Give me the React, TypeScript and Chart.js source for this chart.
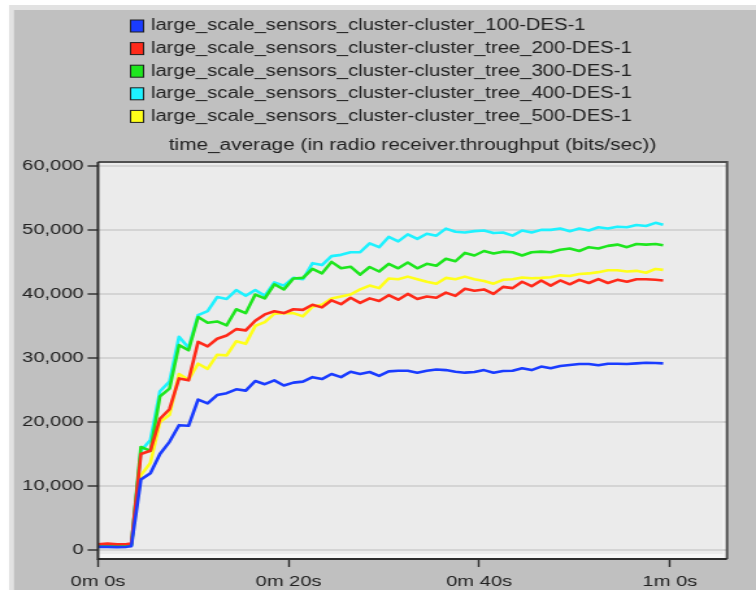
import React, { useEffect, useRef } from 'react';
import { Chart, registerables } from 'chart.js';

Chart.register(...registerables);

// Page size, and the canvas is rendered narrower then widened with CSS so
// that the typeface gets the same wide, flat look as the simulator export.
const WIDTH = 756;
const HEIGHT = 593;
const CANVAS_W = 582;
const SX = WIDTH / CANVAS_W;

const TITLE = 'time_average (in radio receiver.throughput (bits/sec))';

const SERIES_NAMES = [
  'large_scale_sensors_cluster-cluster_100-DES-1',
  'large_scale_sensors_cluster-cluster_tree_200-DES-1',
  'large_scale_sensors_cluster-cluster_tree_300-DES-1',
  'large_scale_sensors_cluster-cluster_tree_400-DES-1',
  'large_scale_sensors_cluster-cluster_tree_500-DES-1',
];
const SERIES_COLORS = ['#1a3cff', '#ff2a1a', '#1ee61e', '#1ef2ff', '#ffff1a'];

// Sample times in seconds
const TIMES = [
  0, 1, 2, 3, 3.5, 4.5, 5.5, 6.5, 7.5, 8.5, 9.5, 10.5, 11.5, 12.5, 13.5, 14.5,
  15.5, 16.5, 17.5, 18.5, 19.5, 20.5, 21.5, 22.5, 23.5, 24.5, 25.5, 26.5, 27.5,
  28.5, 29.5, 30.5, 31.5, 32.5, 33.5, 34.5, 35.5, 36.5, 37.5, 38.5, 39.5, 40.5,
  41.5, 42.5, 43.5, 44.5, 45.5, 46.5, 47.5, 48.5, 49.5, 50.5, 51.5, 52.5, 53.5,
  54.5, 55.5, 56.5, 57.5, 58.5, 59.3,
];

// Throughput (bits/sec) per sample time
const CLUSTER_100 = [
  500, 500, 450, 500, 600, 11000, 12000, 15000, 16900, 19500, 19400, 23500,
  22900, 24200, 24500, 25100, 24900, 26400, 25900, 26500, 25700, 26150, 26300,
  27000, 26700, 27500, 27000, 27850, 27500, 27800, 27200, 27900, 28000, 28000,
  27700, 28000, 28200, 28100, 27850, 27700, 27800, 28100, 27700, 27950, 28000,
  28400, 28100, 28650, 28400, 28750, 28900, 29060, 29050, 28850, 29100, 29100,
  29050, 29150, 29250, 29200, 29150,
];
const TREE_200 = [
  900, 1000, 900, 950, 1000, 15000, 15500, 20500, 22000, 26800, 26500, 32500,
  31800, 33000, 33500, 34500, 34300, 35800, 36800, 37300, 37000, 37600, 37500,
  38300, 37900, 39000, 38400, 39400, 38600, 39300, 38900, 39800, 39100, 40000,
  39200, 39600, 39400, 40200, 39700, 40800, 40500, 40700, 40000, 41100, 40900,
  41900, 41200, 42100, 41300, 42100, 41500, 42200, 41700, 42300, 41700, 42200,
  41900, 42300, 42300, 42200, 42100,
];
const TREE_300 = [
  700, 750, 700, 750, 800, 16100, 15500, 24000, 25200, 32000, 31200, 36400,
  35500, 35700, 35100, 37600, 37000, 39900, 39300, 41500, 40700, 42400, 42500,
  43900, 43200, 45000, 44000, 44250, 43000, 44200, 43500, 44700, 44000, 44900,
  44000, 44700, 44400, 45500, 45100, 46400, 46000, 46700, 46300, 46600, 46500,
  46000, 46500, 46600, 46500, 46900, 47100, 46700, 47300, 47100, 47500, 47700,
  47300, 47800, 47700, 47800, 47600,
];
const TREE_400 = [
  700, 700, 650, 700, 750, 15500, 17200, 24800, 26300, 33300, 31600, 36700,
  37300, 39500, 39200, 40600, 39700, 40600, 39700, 41800, 41300, 42500, 42300,
  44800, 44500, 45900, 46100, 46500, 46500, 47900, 47300, 48900, 48200, 49300,
  48600, 49400, 49100, 50200, 49700, 49600, 49800, 49900, 49500, 49600, 49100,
  49900, 49600, 50000, 50000, 50200, 49800, 50200, 49900, 50400, 50200, 50500,
  50400, 50750, 50600, 51100, 50800,
];
const TREE_500 = [
  700, 700, 650, 700, 800, 11700, 13600, 20000, 21100, 27500, 26600, 29100,
  28300, 30500, 30400, 32600, 32200, 35000, 35600, 36900, 37000, 37000, 36500,
  38000, 38300, 39300, 39600, 39900, 40700, 41300, 40900, 42400, 42300, 42700,
  42300, 41900, 41600, 42500, 42300, 42700, 42300, 42000, 41600, 42200, 42300,
  42550, 42450, 42500, 42600, 42900, 42800, 43100, 43200, 43400, 43700, 43700,
  43500, 43600, 43300, 43900, 43750,
];
const SERIES = [CLUSTER_100, TREE_200, TREE_300, TREE_400, TREE_500];

const X_TICKS = [0, 20, 40, 60];
const X_TICK_LABELS = ['0m 0s', '0m 20s', '0m 40s', '1m 0s'];
const Y_TICKS = [0, 10000, 20000, 30000, 40000, 50000, 60000];

const FONT_FAMILY = '"Liberation Sans", Arial, sans-serif';
const TEXT_COLOR = '#222222';

// Window panel, plot background, plot frame, legend and title
const panelPlugin = {
  id: 'panel',
  beforeDraw(chart: any) {
    const { ctx, width, height, chartArea: a } = chart;
    ctx.save();
    ctx.fillStyle = '#ffffff';
    ctx.fillRect(0, 0, width, height);
    ctx.fillStyle = '#e2e2e2';
    ctx.fillRect(9 / SX, 5, width, 585);
    ctx.fillStyle = '#c0c0c0';
    ctx.fillRect(14 / SX, 10, width, 580);
    ctx.fillStyle = '#ebebeb';
    ctx.fillRect(a.left, a.top, a.right - a.left, a.bottom - a.top);
    ctx.fillStyle = '#f6f6f6';
    ctx.fillRect(a.left, a.bottom - 5, a.right - a.left, 4);
    ctx.fillRect(a.right - 3.2, a.top, 2.4, a.bottom - a.top);
    ctx.restore();
  },
  afterDraw(chart: any) {
    const { ctx, chartArea: a } = chart;
    ctx.save();
    // frame
    ctx.lineWidth = 2;
    ctx.strokeStyle = '#505050';
    ctx.beginPath();
    ctx.moveTo(a.left, a.top);
    ctx.lineTo(a.right, a.top);
    ctx.lineTo(a.right, a.bottom);
    ctx.stroke();
    ctx.strokeStyle = '#2c2c2c';
    ctx.beginPath();
    ctx.moveTo(a.left, a.top);
    ctx.lineTo(a.left, a.bottom);
    ctx.lineTo(a.right, a.bottom);
    ctx.stroke();

    // legend
    ctx.textBaseline = 'middle';
    ctx.textAlign = 'left';
    ctx.font = `15.6px ${FONT_FAMILY}`;
    SERIES_NAMES.forEach((name, k) => {
      const y = 26 + k * 22.6;
      ctx.fillStyle = SERIES_COLORS[k];
      ctx.fillRect(100.5, y - 6, 10, 12);
      ctx.lineWidth = 1;
      ctx.strokeStyle = '#202020';
      ctx.strokeRect(100.5, y - 6, 10, 12);
      ctx.fillStyle = TEXT_COLOR;
      ctx.fillText(name, 116.2, y);
    });

    // title
    ctx.textAlign = 'center';
    ctx.font = `16px ${FONT_FAMILY}`;
    ctx.fillStyle = TEXT_COLOR;
    ctx.fillText(TITLE, (a.left + a.right) / 2, 146);
    ctx.restore();
  },
};

export default function App() {
  const canvasRef = useRef<HTMLCanvasElement>(null);

  useEffect(() => {
    document.body.style.margin = '0';
    const canvas = canvasRef.current;
    if (!canvas) return;

    const tickFont = { family: FONT_FAMILY, size: 15.5 };

    const chart = new Chart(canvas, {
      type: 'line',
      data: {
        datasets: SERIES.map((values, k) => ({
          label: SERIES_NAMES[k],
          data: TIMES.map((t, i) => ({ x: t, y: values[i] })),
          borderColor: SERIES_COLORS[k],
          backgroundColor: SERIES_COLORS[k],
          borderWidth: 2.6,
          pointRadius: 0,
          tension: 0,
          fill: false,
          borderJoinStyle: 'round' as const,
        })),
      },
      options: {
        responsive: false,
        animation: false,
        devicePixelRatio: 1,
        layout: {
          padding: { top: 162, left: 0, right: CANVAS_W - 727 / SX, bottom: 0 },
        },
        plugins: {
          legend: { display: false },
          title: { display: false },
          tooltip: { enabled: false },
        },
        scales: {
          x: {
            type: 'linear',
            min: 0,
            max: 66,
            afterBuildTicks: (scale: any) => {
              scale.ticks = X_TICKS.map((v) => ({ value: v }));
            },
            afterFit: (scale: any) => {
              scale.height = HEIGHT - 559;
            },
            ticks: {
              callback: (_v: any, index: number) => X_TICK_LABELS[index],
              font: tickFont,
              color: TEXT_COLOR,
              padding: 5,
              maxRotation: 0,
              autoSkip: false,
            },
            grid: {
              drawOnChartArea: false,
              tickLength: 8,
              tickColor: '#2c2c2c',
              tickWidth: 1.4,
            },
            border: { display: false },
          },
          y: {
            type: 'linear',
            min: -1400,
            max: 60600,
            afterBuildTicks: (scale: any) => {
              scale.ticks = Y_TICKS.map((v) => ({ value: v }));
            },
            afterFit: (scale: any) => {
              scale.width = 98 / SX;
            },
            ticks: {
              callback: (v: any) => Number(v).toLocaleString('en-US'),
              font: tickFont,
              color: TEXT_COLOR,
              padding: 3,
            },
            grid: {
              color: '#d4d4d4',
              lineWidth: 2,
              tickLength: 8,
              tickColor: '#2c2c2c',
              tickWidth: 1.4,
            },
            border: { display: false },
          },
        },
      },
      plugins: [panelPlugin],
    });

    return () => chart.destroy();
  }, []);

  return (
    <div style={{ width: WIDTH, height: HEIGHT }}>
      <canvas
        ref={canvasRef}
        width={CANVAS_W}
        height={HEIGHT}
        style={{ width: `${WIDTH}px`, height: `${HEIGHT}px`, display: 'block' }}
      />
    </div>
  );
}
